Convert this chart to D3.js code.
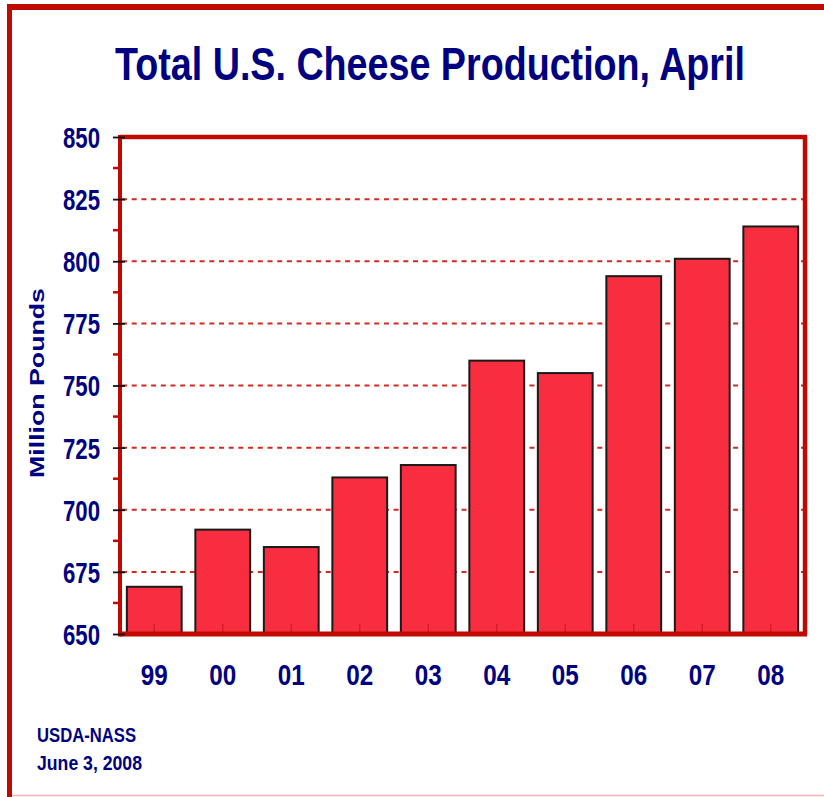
<!DOCTYPE html>
<html>
<head>
<meta charset="utf-8">
<script src="https://cdn.jsdelivr.net/npm/d3@7"></script>
<style>
  html, body { margin: 0; padding: 0; background: #ffffff; }
  svg { display: block; }
  text { font-family: "Liberation Sans", Arial, sans-serif; font-weight: bold; fill: #000080; }
</style>
</head>
<body>
<svg id="chart" width="824" height="797"></svg>
<script>
// April cheese production by year (million pounds)
const years = ["99", "00", "01", "02", "03", "04", "05", "06", "07", "08"];
const production = [669, 692, 685, 713, 718, 760, 755, 794, 801, 814];
const yTicks = [650, 675, 700, 725, 750, 775, 800, 825, 850];
const yMinorTicks = [662.5, 687.5, 712.5, 737.5, 762.5, 787.5, 812.5, 837.5];
const titleText = "Total U.S. Cheese Production, April";
const yAxisTitle = "Million Pounds";
const footerLines = ["USDA-NASS", "June 3, 2008"];

const RED = "#c00a00";
const BAR = "#f82e40";
const NAVY = "#000080";

const svg = d3.select("#chart");

// squeeze a text horizontally to a target width around its own anchor point
function condense(sel, width, cx, cy, rotate) {
  const w = sel.node().getComputedTextLength();
  const s = width / w;
  sel.attr("transform", `translate(${cx},${cy})${rotate ? " rotate(" + rotate + ")" : ""} scale(${s},1)`);
}

// outer frame
svg.append("rect").attr("x", 0).attr("y", 0).attr("width", 824).attr("height", 797).attr("fill", "#fff");
svg.append("line").attr("x1", 7).attr("x2", 824).attr("y1", 7).attr("y2", 7)
  .attr("stroke", RED).attr("stroke-width", 6);
svg.append("line").attr("x1", 9.5).attr("x2", 9.5).attr("y1", 4).attr("y2", 797)
  .attr("stroke", RED).attr("stroke-width", 5);
svg.append("line").attr("x1", 12).attr("x2", 824).attr("y1", 795.5).attr("y2", 795.5)
  .attr("stroke", "#f3b4b4").attr("stroke-width", 1.5);

const plot = { left: 120, right: 805, top: 137, bottom: 634 };

const x = d3.scaleBand().domain(years)
  .range([plot.left, plot.right]).paddingInner(0.2).paddingOuter(0.1);
const y = d3.scaleLinear().domain([650, 850]).range([plot.bottom, plot.top]);

// title
const title = svg.append("text")
  .attr("x", 0).attr("y", 0)
  .attr("text-anchor", "middle")
  .attr("font-size", 46)
  .text(titleText);
condense(title, 630, 430, 80);

// dashed grid lines
svg.append("g").selectAll("line")
  .data(yTicks.filter(v => v > 650 && v < 850))
  .join("line")
  .attr("x1", plot.left + 2).attr("x2", plot.right)
  .attr("y1", d => y(d)).attr("y2", d => y(d))
  .attr("stroke", "#d42a20").attr("stroke-width", 2)
  .attr("stroke-dasharray", "5,4.7");

// bars
svg.append("g").selectAll("rect")
  .data(years.map((yr, i) => ({ yr, v: production[i] })))
  .join("rect")
  .attr("x", d => x(d.yr))
  .attr("y", d => y(d.v))
  .attr("width", x.bandwidth())
  .attr("height", d => y(650) - y(d.v))
  .attr("fill", BAR)
  .attr("stroke", "#1a1a1a").attr("stroke-width", 2);

// plot frame: top and right
svg.append("line").attr("x1", plot.left).attr("x2", plot.right + 2)
  .attr("y1", plot.top).attr("y2", plot.top).attr("stroke", RED).attr("stroke-width", 4.5);
svg.append("line").attr("x1", plot.right).attr("x2", plot.right)
  .attr("y1", plot.top - 2).attr("y2", plot.bottom).attr("stroke", RED).attr("stroke-width", 4.5);

// x axis: thick red baseline with small inward ticks at category centres
svg.append("g").selectAll("line")
  .data(years)
  .join("line")
  .attr("x1", d => x(d) + x.bandwidth() / 2).attr("x2", d => x(d) + x.bandwidth() / 2)
  .attr("y1", plot.bottom - 10).attr("y2", plot.bottom)
  .attr("stroke", "#d02020").attr("stroke-width", 1.5);
svg.append("line").attr("x1", plot.left).attr("x2", plot.right + 2)
  .attr("y1", plot.bottom).attr("y2", plot.bottom).attr("stroke", RED).attr("stroke-width", 5);

const xAxis = svg.append("g")
  .attr("transform", `translate(0,${plot.bottom})`)
  .call(d3.axisBottom(x).tickSize(0).tickPadding(0));
xAxis.select(".domain").remove();
xAxis.selectAll("text")
  .attr("y", 51).attr("dy", 0)
  .attr("font-size", 30)
  .attr("textLength", 27).attr("lengthAdjust", "spacingAndGlyphs")
  .style("fill", NAVY);

// y axis: red spine, red minor ticks, black major ticks
svg.append("g").selectAll("line")
  .data(yMinorTicks)
  .join("line")
  .attr("x1", plot.left - 7).attr("x2", plot.left)
  .attr("y1", d => y(d)).attr("y2", d => y(d))
  .attr("stroke", RED).attr("stroke-width", 2.5);
svg.append("line").attr("x1", plot.left).attr("x2", plot.left)
  .attr("y1", plot.top - 2).attr("y2", plot.bottom + 2.5).attr("stroke", RED).attr("stroke-width", 4);

const yAxis = svg.append("g")
  .attr("transform", `translate(${plot.left},0)`)
  .call(d3.axisLeft(y).tickValues(yTicks).tickSize(0).tickPadding(0));
yAxis.select(".domain").remove();
yAxis.selectAll(".tick").append("line")
  .attr("x1", -7).attr("x2", 5)
  .attr("stroke", "#111").attr("stroke-width", 1.8);
yAxis.selectAll("text")
  .attr("x", -20).attr("dy", "0.36em")
  .attr("font-size", 29)
  .attr("textLength", 37).attr("lengthAdjust", "spacingAndGlyphs")
  .style("fill", NAVY);

// y axis title
const yTitle = svg.append("text")
  .attr("x", 0).attr("y", 0)
  .attr("text-anchor", "middle")
  .attr("font-size", 21)
  .text(yAxisTitle);
condense(yTitle, 190, 44, 383, -90);

// source note
svg.append("g").selectAll("text")
  .data(footerLines)
  .join("text")
  .attr("x", 37)
  .attr("y", (d, i) => 742 + i * 28)
  .attr("font-size", 19.5)
  .attr("textLength", (d, i) => i === 0 ? 99 : 105).attr("lengthAdjust", "spacingAndGlyphs")
  .text(d => d);
</script>
</body>
</html>
